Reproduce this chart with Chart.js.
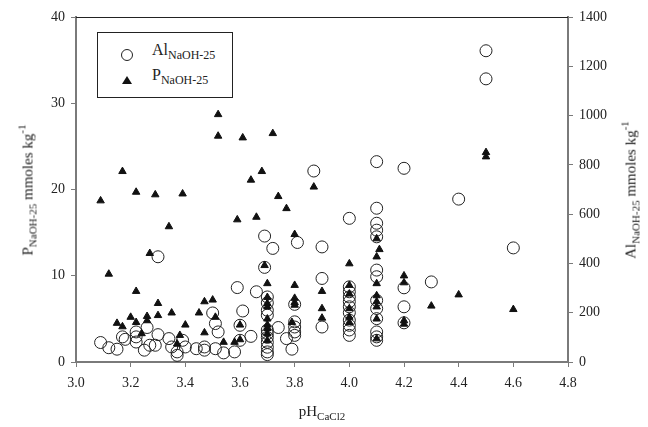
<!DOCTYPE html>
<html>
<head>
<meta charset="utf-8">
<script src="https://cdn.jsdelivr.net/npm/chart.js@4/dist/chart.umd.min.js"></script>
<style>
  html, body { margin: 0; padding: 0; background: #fff; }
  #wrap { position: relative; width: 648px; height: 427px; font-family: "Liberation Serif", "DejaVu Serif", serif; color: #222; }
  #c { position: absolute; left: 0; top: 0; }
  .lbl { position: absolute; white-space: nowrap; font-size: 15px; }
  .lbl sub { font-size: 11px; vertical-align: -4px; }
  .lbl sup { font-size: 11px; vertical-align: 7px; }
  .rot { transform: translate(-50%, -50%) rotate(-90deg); }
  #legend { position: absolute; left: 97px; top: 32px; width: 136px; height: 66px; border: 1px solid #222; box-sizing: border-box; background: #fff; }
  #legend .row { position: absolute; left: 54px; font-size: 16px; }
  #legend .row sub { font-size: 12px; vertical-align: -4px; }
  #legend .sym { position: absolute; }
</style>
</head>
<body>
<div id="wrap">
  <canvas id="c" width="648" height="427"></canvas>
  <div id="legend">
    <svg class="sym" style="left:22px;top:15px" width="14" height="14"><circle cx="7" cy="7" r="5.5" fill="none" stroke="#222" stroke-width="1"/></svg>
    <div class="row" style="top:8px">Al<sub>NaOH-25</sub></div>
    <svg class="sym" style="left:23px;top:42px" width="12" height="10"><polygon points="6,1 11,9 1,9" fill="#111"/></svg>
    <div class="row" style="top:33px">P<sub>NaOH-25</sub></div>
  </div>
  <div class="lbl rot" style="left:27px;top:190px">P<sub>NaOH-25</sub> mmoles kg<sup>-1</sup></div>
  <div class="lbl rot" style="left:630px;top:190px">Al<sub>NaOH-25</sub> mmoles kg<sup>-1</sup></div>
  <div class="lbl" style="left:322px;top:412px;transform:translate(-50%,-50%)">pH<sub>CaCl2</sub></div>
</div>
<script>
// Al_NaOH-25 (right axis, mmoles/kg) vs pH
const alPH = [3.09, 3.12, 3.15, 3.17, 3.18, 3.22, 3.22, 3.22, 3.25, 3.26, 3.27, 3.29, 3.30, 3.30,
  3.34, 3.35, 3.37, 3.37, 3.39, 3.40, 3.44, 3.47, 3.47, 3.50, 3.51, 3.51, 3.52, 3.54, 3.58,
  3.59, 3.60, 3.60, 3.61, 3.64, 3.66, 3.69, 3.69, 3.70, 3.70, 3.70, 3.70, 3.70, 3.70, 3.70,
  3.70, 3.70, 3.70, 3.70, 3.72, 3.74, 3.77, 3.79, 3.80, 3.80, 3.80, 3.80, 3.80, 3.81, 3.87,
  3.90, 3.90, 3.90, 4.00, 4.00, 4.00, 4.00, 4.00, 4.00, 4.00, 4.00, 4.00, 4.00, 4.00,
  4.10, 4.10, 4.10, 4.10, 4.10, 4.10, 4.10, 4.10, 4.10, 4.10, 4.10, 4.10, 4.10,
  4.20, 4.20, 4.20, 4.20, 4.30, 4.40, 4.50, 4.50, 4.60];
const alVal = [79, 58, 52, 102, 92, 122, 102, 81, 48, 140, 68, 68, 111, 427,
  95, 61, 41, 27, 88, 61, 54, 61, 48, 199, 54, 156, 122, 37, 41,
  302, 149, 88, 207, 104, 285, 511, 384, 264, 240, 210, 190, 130, 115, 100,
  80, 60, 41, 30, 461, 140, 95, 52, 234, 163, 142, 122, 108, 485, 775,
  467, 339, 142, 583, 305, 285, 264, 245, 224, 200, 170, 149, 130, 108,
  813, 624, 563, 535, 508, 373, 346, 250, 217, 176, 122, 102, 88,
  786, 301, 224, 159, 325, 661, 1263, 1149, 463];

// P_NaOH-25 (left axis, mmoles/kg) vs pH
const pPH = [3.09, 3.12, 3.15, 3.17, 3.17, 3.20, 3.22, 3.22, 3.22, 3.24, 3.26, 3.26, 3.27, 3.29,
  3.30, 3.30, 3.34, 3.35, 3.37, 3.38, 3.39, 3.40, 3.45, 3.47, 3.47, 3.50, 3.51, 3.52, 3.52,
  3.54, 3.58, 3.59, 3.60, 3.60, 3.61, 3.64, 3.66, 3.68, 3.69, 3.70, 3.70, 3.70, 3.70, 3.70,
  3.70, 3.70, 3.70, 3.70, 3.72, 3.74, 3.77, 3.80, 3.80, 3.80, 3.80, 3.80, 3.79, 3.87,
  3.90, 3.90, 3.90, 4.00, 4.00, 4.00, 4.00, 4.00, 4.00, 4.10, 4.11, 4.10, 4.10, 4.10,
  4.10, 4.10, 4.10, 4.10, 4.20, 4.20, 4.20, 4.20, 4.30, 4.40, 4.50, 4.50, 4.60];
const pVal = [18.7, 10.2, 4.5, 22.1, 4.1, 5.2, 19.7, 8.2, 4.6, 3.3, 5.3, 4.8, 12.6, 19.4,
  6.8, 5.4, 15.7, 5.7, 2.1, 3.1, 19.5, 4.3, 5.7, 7.0, 3.4, 7.2, 5.2, 28.7, 26.2,
  2.3, 2.3, 16.5, 4.3, 2.6, 26.0, 21.1, 16.8, 22.1, 11.2, 9.1, 7.5, 6.8, 6.4, 5.0,
  4.3, 3.9, 3.3, 2.5, 26.5, 19.2, 17.8, 14.8, 8.9, 7.4, 6.9, 6.6, 4.6, 20.3,
  8.2, 6.2, 5.1, 11.4, 8.9, 7.9, 6.2, 5.2, 4.6, 14.3, 13.05, 12.2, 9.1, 7.7,
  7.0, 6.4, 5.0, 2.7, 10.0, 9.2, 4.8, 4.4, 6.5, 7.8, 24.3, 23.8, 6.1];

const xTicks = [3.0, 3.2, 3.4, 3.6, 3.8, 4.0, 4.2, 4.4, 4.6, 4.8];

const tickFont = { family: 'Liberation Serif', size: 14 };
const axisGray = '#7a7a7a';

// top frame line (the plot is boxed on top)
const frameTop = {
  id: 'frameTop',
  afterDraw(chart) {
    const { ctx, chartArea: a } = chart;
    ctx.save();
    ctx.strokeStyle = '#222';
    ctx.lineWidth = 1;
    ctx.beginPath();
    ctx.moveTo(a.left, a.top + 0.5);
    ctx.lineTo(a.right, a.top + 0.5);
    ctx.stroke();
    ctx.restore();
  }
};

function axisStyle(extra) {
  return Object.assign({
    grid: { drawOnChartArea: false, drawTicks: true, tickLength: 5, color: axisGray, lineWidth: 1 },
    border: { display: true, color: axisGray, width: 2 },
  }, extra);
}

new Chart(document.getElementById('c'), {
  type: 'scatter',
  data: {
    datasets: [
      {
        label: 'P',
        data: pPH.map((x, i) => ({ x, y: pVal[i] })),
        yAxisID: 'y',
        pointStyle: 'triangle',
        pointRadius: 4.3,
        backgroundColor: '#111',
        borderColor: '#111',
        borderWidth: 1,
      },
      {
        label: 'Al',
        data: alPH.map((x, i) => ({ x, y: alVal[i] })),
        yAxisID: 'y2',
        pointStyle: 'circle',
        pointRadius: 6,
        backgroundColor: 'rgba(0,0,0,0)',
        borderColor: '#222',
        borderWidth: 1,
      },
    ],
  },
  options: {
    responsive: false,
    animation: false,
    layout: { padding: { top: 17, left: 0, right: 0, bottom: 0 } },
    plugins: { legend: { display: false }, tooltip: { enabled: false } },
    scales: {
      x: axisStyle({
        type: 'linear', min: 3.0, max: 4.8,
        afterBuildTicks: s => { s.ticks = xTicks.map(v => ({ value: v })); },
        ticks: { font: tickFont, color: '#222', padding: 8, callback: v => v.toFixed(1) },
        afterFit: s => { s.height = 65; },
      }),
      y: axisStyle({
        position: 'left', min: 0, max: 40,
        ticks: { stepSize: 10, font: tickFont, color: '#222', padding: 6, callback: v => String(v) },
        afterFit: s => { s.width = 76; },
      }),
      y2: axisStyle({
        position: 'right', min: 0, max: 1400,
        ticks: { stepSize: 200, font: tickFont, color: '#222', padding: 6, callback: v => String(v) },
        afterFit: s => { s.width = 80; },
      }),
    },
  },
  plugins: [frameTop],
});
</script>
</body>
</html>
